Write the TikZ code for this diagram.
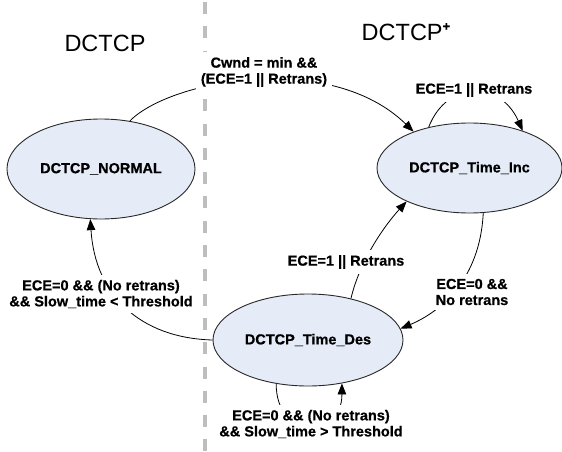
\documentclass[tikz,border=0pt]{standalone}
\usepackage{fontspec}
\setmainfont{Liberation Sans}
\newfontfamily\lblfont{Liberation Sans}[FakeBold=0.6]
\usetikzlibrary{shapes.geometric,arrows.meta}
\definecolor{efill}{RGB}{230,236,247}
\definecolor{eline}{RGB}{40,40,40}
\definecolor{divider}{RGB}{190,190,190}
\begin{document}
\begin{tikzpicture}[x=1pt,y=-1pt,
  state/.style={ellipse, draw=eline, line width=0.9pt, fill=efill, inner sep=0pt,
    font=\lblfont\bfseries\fontsize{14.5}{17}\selectfont},
  lbl/.style={fill=white, inner sep=5pt, align=center, font=\lblfont\bfseries\fontsize{14.5}{16}\selectfont},
  conn/.style={line width=0.8pt, draw=black},
  tip/.style={-{Triangle[length=11pt,width=8.5pt]}},
  title/.style={font=\fontsize{23.5}{28}\selectfont, inner sep=0pt}]
\useasboundingbox (0,0) rectangle (562,452);
\draw[divider, line width=4pt, dash pattern=on 12pt off 12.3pt] (205,2) -- (205,452);

\node[title] (t1) at (105,43) {DCTCP};
\node[title] (t2) at (406,32) {DCTCP\raisebox{0.42em}{\lblfont\bfseries\fontsize{13}{13}\selectfont +}};

\node[state, minimum width=188pt, minimum height=100pt] (normal) at (101,169) {DCTCP\_NORMAL};
\node[state, minimum width=185pt, minimum height=90pt] (inc) at (469.5,168) {DCTCP\_Time\_Inc};
\node[state, minimum width=190pt, minimum height=92pt] (des) at (308,340) {DCTCP\_Time\_Des};

\draw[conn,tip] (normal.59) .. controls (170,80) and (330,50) .. (inc.147);
\draw[conn,tip] (inc.135) .. controls (447,80) and (500,80) .. (inc.35);
\draw[conn,tip] (inc.-73) .. controls (480,280) and (440,312) .. (des.7);
\draw[conn,tip] (des.44) .. controls (360,260) and (385,225) .. (inc.208);
\draw[conn,tip] (des.180) .. controls (140,338) and (95,295) .. (normal.258);
\draw[conn,tip] (des.-126) .. controls (276,440) and (342,440) .. (des.-52);

\node[lbl] (l1) at (264,72) {Cwnd = min \&\&\\(ECE=1 || Retrans)};
\node[lbl] (l2) at (474,90) {ECE=1 || Retrans};
\node[lbl] (l3) at (472,292) {ECE=0 \&\&\\No retrans};
\node[lbl] (l4) at (346,262) {ECE=1 || Retrans};
\node[lbl] (l5) at (101,294) {ECE=0 \&\& (No retrans)\\\&\& Slow\_time < Threshold};
\node[lbl] (l6) at (311,424) {ECE=0 \&\& (No retrans)\\\&\& Slow\_time > Threshold};
\end{tikzpicture}
\end{document}
